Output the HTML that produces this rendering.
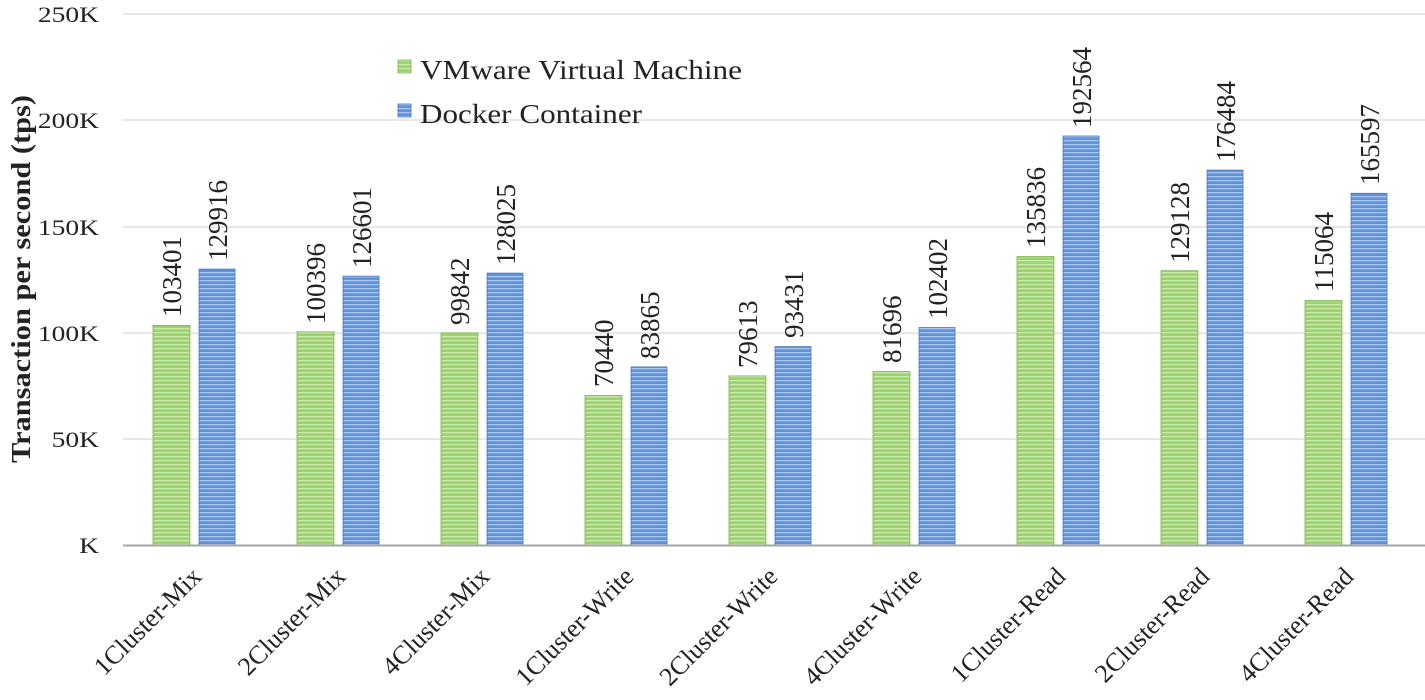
<!DOCTYPE html>
<html><head><meta charset="utf-8"><style>
html,body{margin:0;padding:0;background:#fff}
svg{display:block}
text{font-family:"Liberation Serif",serif;fill:#222}
</style></head><body>
<svg width="1425" height="700" viewBox="0 0 1425 700" xmlns="http://www.w3.org/2000/svg" font-family="Liberation Serif, serif">
<defs>
<pattern id="g" width="10" height="4" patternUnits="userSpaceOnUse"><rect width="10" height="4" fill="#9ad46a"/><rect width="10" height="1.3" fill="#c9e9ad"/></pattern>
<pattern id="b" width="10" height="4" patternUnits="userSpaceOnUse"><rect width="10" height="4" fill="#5f92dc"/><rect width="10" height="1.3" fill="#a9c4ee"/></pattern>
</defs>
<g stroke="#d9d9d9" stroke-width="1.3">
<line x1="123" y1="14" x2="1425" y2="14"/><line x1="123" y1="120" x2="1425" y2="120"/>
<line x1="123" y1="227" x2="1425" y2="227"/><line x1="123" y1="333" x2="1425" y2="333"/>
<line x1="123" y1="439" x2="1425" y2="439"/>
</g>
<g font-size="22" text-anchor="end">
<text transform="translate(99,22) scale(1.25,1)">250K</text>
<text transform="translate(99,128) scale(1.25,1)">200K</text>
<text transform="translate(99,235) scale(1.25,1)">150K</text>
<text transform="translate(99,341) scale(1.25,1)">100K</text>
<text transform="translate(99,447) scale(1.25,1)">50K</text>
<text transform="translate(99,553) scale(1.25,1)">K</text>
</g>
<text transform="translate(30,279) scale(1.0,1) rotate(-90)" font-size="27" font-weight="bold" text-anchor="middle" textLength="368" lengthAdjust="spacingAndGlyphs">Transaction per second (tps)</text>

<g fill="url(#g)" stroke="#7fb04f" stroke-width="0.8">
<rect x="153" y="325.4" width="37" height="219.6"/>
<rect x="297" y="331.8" width="37" height="213.2"/>
<rect x="441" y="332.9" width="37" height="212.1"/>
<rect x="585" y="395.4" width="37" height="149.6"/>
<rect x="729" y="375.9" width="37" height="169.1"/>
<rect x="873" y="371.5" width="37" height="173.5"/>
<rect x="1017" y="256.5" width="37" height="288.5"/>
<rect x="1161" y="270.7" width="37" height="274.3"/>
<rect x="1305" y="300.6" width="37" height="244.4"/>
</g>
<g fill="url(#b)" stroke="#4a78bd" stroke-width="0.8">
<rect x="199" y="269.1" width="36" height="275.9"/>
<rect x="343" y="276.1" width="36" height="268.9"/>
<rect x="487" y="273.1" width="36" height="271.9"/>
<rect x="631" y="366.9" width="36" height="178.1"/>
<rect x="775" y="346.6" width="36" height="198.4"/>
<rect x="919" y="327.5" width="36" height="217.5"/>
<rect x="1063" y="136.0" width="36" height="409"/>
<rect x="1207" y="170.1" width="36" height="374.9"/>
<rect x="1351" y="193.3" width="36" height="351.7"/>
</g>
<g font-size="27">
<text transform="translate(181,317) rotate(-90)">103401</text>
<text transform="translate(325,324) rotate(-90)">100396</text>
<text transform="translate(469,325) rotate(-90)">99842</text>
<text transform="translate(613,387) rotate(-90)">70440</text>
<text transform="translate(757,368) rotate(-90)">79613</text>
<text transform="translate(901,363) rotate(-90)">81696</text>
<text transform="translate(1045,248) rotate(-90)">135836</text>
<text transform="translate(1189,263) rotate(-90)">129128</text>
<text transform="translate(1333,292) rotate(-90)">115064</text>
<text transform="translate(227,261) rotate(-90)">129916</text>
<text transform="translate(371,268) rotate(-90)">126601</text>
<text transform="translate(515,265) rotate(-90)">128025</text>
<text transform="translate(659,359) rotate(-90)">83865</text>
<text transform="translate(803,338) rotate(-90)">93431</text>
<text transform="translate(947,319) rotate(-90)">102402</text>
<text transform="translate(1091,128) rotate(-90)">192564</text>
<text transform="translate(1235,162) rotate(-90)">176484</text>
<text transform="translate(1379,185) rotate(-90)">165597</text>
</g>
<g font-size="26" text-anchor="end">
<text transform="translate(203,578) rotate(-45)">1Cluster-Mix</text>
<text transform="translate(347,578) rotate(-45)">2Cluster-Mix</text>
<text transform="translate(491,578) rotate(-45)">4Cluster-Mix</text>
<text transform="translate(635,578) rotate(-45)">1Cluster-Write</text>
<text transform="translate(779,578) rotate(-45)">2Cluster-Write</text>
<text transform="translate(923,578) rotate(-45)">4Cluster-Write</text>
<text transform="translate(1067,578) rotate(-45)">1Cluster-Read</text>
<text transform="translate(1211,578) rotate(-45)">2Cluster-Read</text>
<text transform="translate(1355,578) rotate(-45)">4Cluster-Read</text>
</g>
<line x1="123" y1="545.5" x2="1425" y2="545.5" stroke="#a6a6a6" stroke-width="2"/>
<rect x="398" y="60" width="13" height="13" fill="url(#g)" stroke="#7fb04f" stroke-width="0.8"/>
<text x="420" y="79" font-size="27" textLength="322" lengthAdjust="spacingAndGlyphs">VMware Virtual Machine</text>
<rect x="398" y="104" width="13" height="13" fill="url(#b)" stroke="#4a78bd" stroke-width="0.8"/>
<text x="420" y="123" font-size="27" textLength="222" lengthAdjust="spacingAndGlyphs">Docker Container</text>
</svg>
</body></html>
